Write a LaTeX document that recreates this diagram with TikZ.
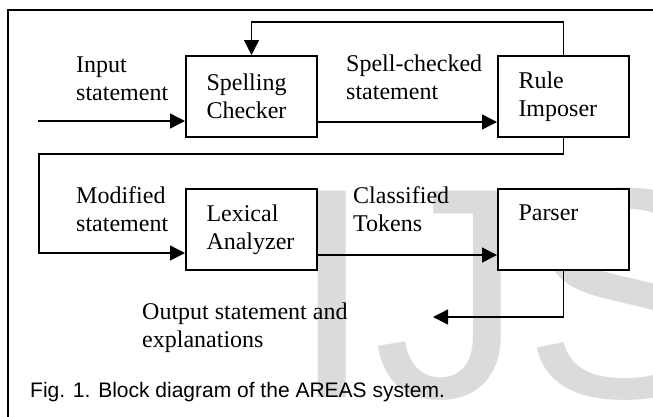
\documentclass[tikz,border=0pt]{standalone}
\usepackage{fontspec}
\setmainfont{Liberation Serif}
\newfontfamily\capfont{Liberation Sans}
\usetikzlibrary{arrows.meta,positioning}

\begin{document}
\begin{tikzpicture}[x=1pt,y=-1pt,
	blk/.style={draw,line width=2pt,fill=white,minimum width=131pt,minimum height=81pt,text width=90pt,align=left,inner sep=0pt,font=\fontsize{24}{28}\selectfont},
	lbl/.style={anchor=base west,align=left,inner sep=0pt,font=\fontsize{24}{28}\selectfont},
	con/.style={line width=1.4pt,-{Triangle[length=15pt,width=15pt]}}]
	\useasboundingbox (0,0) rectangle (653,416);
	\node[anchor=base west,inner sep=0pt,text=black!14,font=\capfont\fontsize{300}{300}\selectfont] (WM) at (290,397) {IJS};
	\draw[line width=1.8pt] (8,430) -- (8,10) -- (670,10);

	\node[blk] (SC) at (251.5,96.5) {Spelling\\Checker};
	\node[blk,right=179pt of SC] (RI) {Rule\\Imposer};
	\node[blk,below=50pt of SC] (LA) {Lexical\\Analyzer};
	\node[blk,right=179pt of LA] (PA) {Parser\\\vphantom{p}};

	\coordinate (IN) at (38,121);
	\coordinate (LP) at (39,154);
	\coordinate (OUT) at (433,317);

	\draw[con] (IN) -- (IN -| SC.west);
	\draw[con] ([yshift=16pt]SC.south east) -- ([yshift=16pt]RI.south west);
	\draw[con] (RI.north) -- ++(0,-33) -| (SC.north);
	\draw[con] (RI.south) |- (LP) |- ([yshift=18pt]LA.south west);
	\draw[con] ([yshift=16pt]LA.south east) -- ([yshift=16pt]PA.south west);
	\draw[con] (PA.south) |- (OUT);

	\node[lbl] (T1) at (76,100) {Input\\statement};
	\node[lbl] (T2) at (346,99) {Spell-checked\\statement};
	\node[lbl] (T3) at (76,231) {Modified\\statement};
	\node[lbl] (T4) at (353,231) {Classified\\Tokens};
	\node[lbl] (T5) at (142,347) {Output statement and\\explanations};
	\node[anchor=base west,inner sep=0pt,font=\capfont\fontsize{21}{25}\selectfont] (CAP) at (30,397) {Fig. 1. Block diagram of the AREAS system.};
\end{tikzpicture}
\end{document}
